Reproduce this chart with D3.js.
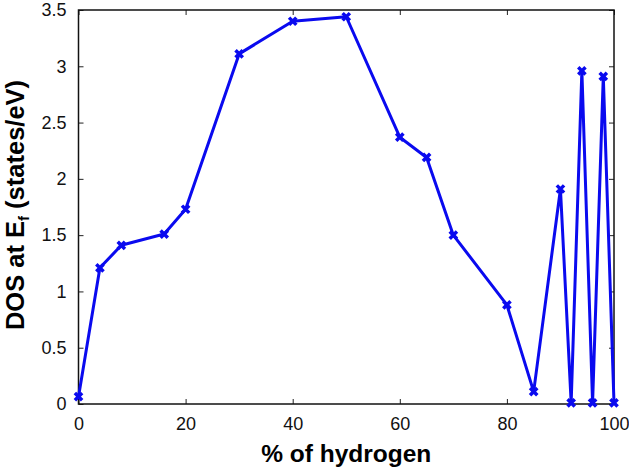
<!DOCTYPE html>
<html>
<head>
<meta charset="utf-8">
<script src="https://cdn.jsdelivr.net/npm/d3@7"></script>
<style>
  body { margin: 0; background: white; }
  text { font-family: "Liberation Sans", Arial, sans-serif; }
</style>
</head>
<body>
<div id="chart"></div>
<script>
var w = 629;
var h = 469;

// data
var hydrogen = [0, 4, 8, 16, 20, 30, 40, 50, 60, 65, 70, 80, 85, 90, 92, 94, 96, 98, 100];
var dos      = [0.065, 1.21, 1.41, 1.51, 1.73, 3.11, 3.40, 3.44, 2.37, 2.19, 1.50, 0.88, 0.11, 1.91, 0.01, 2.96, 0.01, 2.91, 0.01];
var xTicks = [0, 20, 40, 60, 80, 100];
var yTicks = [0, 0.5, 1, 1.5, 2, 2.5, 3, 3.5];

var points = hydrogen.map(function(d, i) { return {x: d, y: dos[i]}; });

var pLeft = 78.5, pRight = 614, pTop = 10, pBottom = 404;

var xScale = d3.scaleLinear().domain([0, 100]).range([pLeft, pRight]);
var yScale = d3.scaleLinear().domain([0, 3.5]).range([pBottom, pTop]);

var svg = d3.select("#chart")
    .append("svg")
    .attr("width", w)
    .attr("height", h)
    .style("background-color", "white");

// axes with inward ticks, mirrored on top and right
var xAxis = d3.axisBottom(xScale).tickValues(xTicks).tickSizeInner(-5).tickSizeOuter(0).tickPadding(13).tickFormat(d3.format("d"));
var yAxis = d3.axisLeft(yScale).tickValues(yTicks).tickSizeInner(-5).tickSizeOuter(0).tickPadding(12).tickFormat(function(d) { return d; });

svg.append("g").attr("transform", `translate(0, ${pBottom})`).call(xAxis);
svg.append("g").attr("transform", `translate(${pLeft}, 0)`).call(yAxis);

svg.append("g").attr("transform", `translate(0, ${pTop})`)
    .call(d3.axisTop(xScale).tickValues(xTicks).tickSizeInner(-5).tickSizeOuter(0).tickFormat(""));
svg.append("g").attr("transform", `translate(${pRight}, 0)`)
    .call(d3.axisRight(yScale).tickValues(yTicks).tickSizeInner(-5).tickSizeOuter(0).tickFormat(""));

svg.selectAll(".domain").remove();
svg.selectAll(".tick line").attr("stroke", "#222").attr("stroke-width", 1);
svg.selectAll(".tick text")
    .attr("fill", "#111")
    .style("font-size", "18px")
    .style("font-family", "Liberation Sans, Arial, sans-serif");

svg.append("rect")
    .attr("x", pLeft)
    .attr("y", pTop)
    .attr("width", pRight - pLeft)
    .attr("height", pBottom - pTop)
    .attr("fill", "none")
    .attr("stroke", "#111")
    .attr("stroke-width", 1.5);

// series line
var line = d3.line().x(d => xScale(d.x)).y(d => yScale(d.y));

svg.append("path")
    .datum(points)
    .attr("d", line)
    .attr("fill", "none")
    .attr("stroke", "#0a0aef")
    .attr("stroke-width", 3)
    .attr("stroke-linejoin", "round");

var marker = d3.symbol().type(d3.symbolX).size(36);

svg.selectAll(".pt")
    .data(points)
    .join("path")
    .attr("class", "pt")
    .attr("d", marker)
    .attr("fill", "none")
    .attr("stroke", "#0a0aef")
    .attr("stroke-width", 3.5)
    .attr("transform", d => `translate(${xScale(d.x)}, ${yScale(d.y)})`);

// labels
svg.append("text")
    .attr("text-anchor", "middle")
    .attr("x", (pLeft + pRight) / 2)
    .attr("y", 462)
    .style("font-size", "24.5px")
    .style("font-weight", "bold")
    .text("% of hydrogen");

var yl = svg.append("text")
    .attr("text-anchor", "middle")
    .attr("transform", `translate(24, ${(pTop + pBottom) / 2 - 2}) rotate(-90)`)
    .style("font-size", "25.5px")
    .style("font-weight", "bold");
yl.append("tspan").text("DOS at E");
yl.append("tspan").attr("dy", 5).style("font-size", "15px").text("f");
yl.append("tspan").attr("dy", -5).text(" (states/eV)");
</script>
</body>
</html>
